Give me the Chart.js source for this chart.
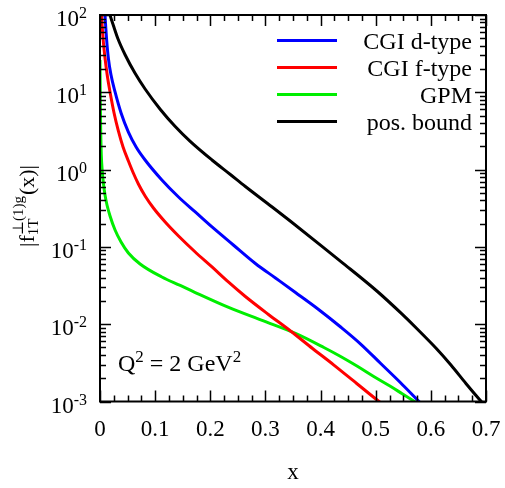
<!DOCTYPE html>
<html>
<head>
<meta charset="utf-8">
<script src="https://cdn.jsdelivr.net/npm/chart.js@4"></script>
<style>
  body { margin: 0; background: #fff; }
  #wrap { width: 505px; height: 488px; }
</style>
</head>
<body>
<div id="wrap"><canvas id="chart" width="505" height="488"></canvas></div>
<script>
// values (x, |f| on log scale)
const xTicks = [0, 0.1, 0.2, 0.3, 0.4, 0.5, 0.6, 0.7];
const yDecades = [-3, -2, -1, 0, 1, 2];

const labels = ['CGI d-type', 'CGI f-type', 'GPM', 'pos. bound'];
const colors = ['#0000ff', '#ff0000', '#00ee00', '#000000'];

const xBlue = [0.007, 0.0091, 0.0118, 0.0151, 0.02, 0.0273, 0.0382, 0.0515, 0.0655, 0.0818, 0.1122, 0.1424, 0.1727, 0.2031, 0.2418, 0.2818, 0.3182, 0.3545, 0.3964, 0.4364, 0.4727, 0.5091, 0.5455, 0.5758, 0.5855];
const yBlue = [200, 100, 50.4, 27.8, 16.7, 10.1, 5.4, 3.06, 1.96, 1.331, 0.734, 0.442, 0.283, 0.181, 0.1058, 0.061, 0.0396, 0.0257, 0.0155, 0.0092, 0.00554, 0.0031, 0.001735, 0.001045, 0.00089];

const xRed = [0.0022, 0.0031, 0.0055, 0.0091, 0.0136, 0.0182, 0.0255, 0.0333, 0.0418, 0.0515, 0.06, 0.0696, 0.0818, 0.0969, 0.1182, 0.1424, 0.1727, 0.2031, 0.2327, 0.2636, 0.3055, 0.3455, 0.3855, 0.4242, 0.4655, 0.506, 0.5145];
const yRed = [210, 100, 50.4, 27.8, 15.8, 10.1, 5.4, 3.16, 1.96, 1.292, 0.917, 0.651, 0.4555, 0.3186, 0.21, 0.1384, 0.0859, 0.055, 0.0352, 0.02283, 0.01337, 0.00818, 0.00485, 0.00296, 0.00171, 0.001, 0.0009];

const xGreen = [0, 0.00055, 0.00127, 0.00236, 0.00418, 0.00636, 0.00909, 0.0127, 0.0182, 0.0273, 0.0382, 0.0515, 0.0727, 0.1122, 0.1455, 0.1727, 0.2333, 0.294, 0.3545, 0.406, 0.4364, 0.4667, 0.4964, 0.5273, 0.5473, 0.5667, 0.5745];
const yGreen = [26.2, 7.95, 3.25, 1.545, 0.931, 0.651, 0.469, 0.348, 0.251, 0.1654, 0.1157, 0.0834, 0.0601, 0.0408, 0.0317, 0.0257, 0.01647, 0.01118, 0.0076, 0.004995, 0.00382, 0.002853, 0.002105, 0.001559, 0.00127, 0.00104, 0.00096];

const xBlack = [0.0091, 0.0182, 0.0255, 0.0327, 0.0455, 0.0636, 0.0818, 0.1091, 0.1364, 0.1636, 0.2031, 0.2364, 0.2636, 0.3122, 0.3455, 0.406, 0.4364, 0.5031, 0.5455, 0.5758, 0.6091, 0.6364, 0.6636, 0.6878, 0.7];
const yBlack = [176, 100, 68.9, 48.9, 30.6, 17.6, 11.03, 6.04, 3.61, 2.32, 1.331, 0.864, 0.6045, 0.328, 0.2144, 0.0973, 0.0651, 0.02649, 0.01398, 0.0086, 0.00492, 0.002967, 0.001711, 0.001068, 0.000849];

const seriesX = [xBlue, xRed, xGreen, xBlack];
const seriesY = [yBlue, yRed, yGreen, yBlack];

const FONT = '"Liberation Serif", "DejaVu Serif", serif';

const pts = (xs, ys) => xs.map((x, i) => ({ x: x, y: ys[i] }));

// draws text with pieces: [text, size, dy]
function drawPieces(ctx, pieces, x, y) {
  let cx = x;
  for (const p of pieces) {
    ctx.font = p[1] + 'px ' + FONT;
    ctx.fillText(p[0], cx, y + p[2]);
    cx += ctx.measureText(p[0]).width;
  }
  return cx;
}
function piecesWidth(ctx, pieces) {
  let w = 0;
  for (const p of pieces) {
    ctx.font = p[1] + 'px ' + FONT;
    w += ctx.measureText(p[0]).width;
  }
  return w;
}

const decor = {
  id: 'decor',
  afterDraw(chart) {
    const ctx = chart.ctx;
    const a = chart.chartArea;
    const xs = chart.scales.x, ys = chart.scales.y;
    ctx.save();
    ctx.strokeStyle = '#000';
    ctx.fillStyle = '#000';

    // frame
    ctx.lineWidth = 2;
    ctx.strokeRect(a.left, a.top, a.right - a.left, a.bottom - a.top);

    // inward ticks on x (bottom + top)
    ctx.lineWidth = 1.5;
    ctx.beginPath();
    for (let i = 0; i <= 28; i++) {
      const px = Math.round(xs.getPixelForValue(i * 0.025)) + 0.5;
      const len = i % 4 === 0 ? 11 : 6;
      ctx.moveTo(px, a.bottom); ctx.lineTo(px, a.bottom - len);
      ctx.moveTo(px, a.top); ctx.lineTo(px, a.top + len);
    }
    // inward ticks on y (left + right)
    for (const d of yDecades) {
      for (let m = 1; m <= 9; m++) {
        if (d === 2 && m > 1) break;
        const py = Math.round(ys.getPixelForValue(m * Math.pow(10, d))) + 0.5;
        const len = m === 1 ? 11 : 6;
        ctx.moveTo(a.left, py); ctx.lineTo(a.left + len, py);
        ctx.moveTo(a.right, py); ctx.lineTo(a.right - len, py);
      }
    }
    ctx.stroke();

    // y tick labels 10^n
    ctx.textBaseline = 'alphabetic';
    ctx.textAlign = 'left';
    for (const d of yDecades) {
      const py = ys.getPixelForValue(Math.pow(10, d));
      const pieces = [['10', 23, 11], [d < 0 ? '-' + (-d) : String(d), 16, 3]];
      const w = piecesWidth(ctx, pieces);
      drawPieces(ctx, pieces, 87 - w, py);
    }

    // x axis title
    ctx.font = '23px ' + FONT;
    ctx.textAlign = 'center';
    ctx.fillText('x', (a.left + a.right) / 2, 479);
    ctx.textAlign = 'left';

    // y axis title, rotated
    ctx.save();
    ctx.translate(34, 206);
    ctx.rotate(-Math.PI / 2);
    ctx.font = '22px ' + FONT;
    const w1 = ctx.measureText('|f').width;
    ctx.font = '15px ' + FONT;
    const wsup = ctx.measureText('\u22A5(1)g').width;
    const wsub = ctx.measureText('1T').width;
    ctx.font = '22px ' + FONT;
    const w2 = ctx.measureText('(x)|').width;
    const total = w1 + Math.max(wsup, wsub) + 1 + w2;
    let cx = -total / 2;
    ctx.fillText('|f', cx, 0);
    cx += w1;
    ctx.font = '15px ' + FONT;
    ctx.fillText('\u22A5(1)g', cx, -11);
    ctx.fillText('1T', cx, 4);
    cx += Math.max(wsup, wsub) + 1;
    ctx.font = '22px ' + FONT;
    ctx.fillText('(x)|', cx, 0);
    ctx.restore();

    // Q^2 annotation
    drawPieces(ctx, [['Q', 24, 0], ['2', 17, -9], [' = 2 GeV', 24, 0], ['2', 17, -9]], 118, 371);

    // legend: line then right-aligned label
    chart.data.datasets.forEach((ds, i) => {
      const ly = 40.5 + i * 27;
      ctx.strokeStyle = ds.borderColor;
      ctx.lineWidth = 3;
      ctx.beginPath();
      ctx.moveTo(277, ly); ctx.lineTo(337, ly);
      ctx.stroke();
      ctx.font = '24px ' + FONT;
      ctx.textAlign = 'right';
      ctx.fillText(ds.label, 472, ly + 8);
    });
    ctx.restore();
  }
};

new Chart(document.getElementById('chart'), {
  type: 'scatter',
  data: {
    datasets: labels.map((l, i) => ({
      label: l,
      data: pts(seriesX[i], seriesY[i]),
      showLine: true,
      borderColor: colors[i],
      backgroundColor: colors[i],
      borderWidth: 3,
      pointRadius: 0,
      cubicInterpolationMode: 'monotone'
    }))
  },
  options: {
    responsive: false,
    animation: false,
    devicePixelRatio: 1,
    layout: { padding: { top: 15, right: 19, left: 0, bottom: 0 } },
    plugins: { legend: { display: false }, tooltip: { enabled: false } },
    scales: {
      x: {
        type: 'linear',
        min: 0,
        max: 0.7,
        afterBuildTicks: s => { s.ticks = xTicks.map(v => ({ value: v })); },
        afterFit: s => { s.height = 86.5; s.paddingLeft = 0; s.paddingRight = 0; },
        grid: { display: false, drawTicks: false },
        border: { display: false },
        ticks: {
          color: '#000',
          font: { family: FONT, size: 23 },
          padding: 15,
          maxRotation: 0,
          autoSkip: false,
          callback: v => (v === 0 ? '0' : v.toFixed(1))
        }
      },
      y: {
        type: 'logarithmic',
        min: 1e-3,
        max: 100,
        afterFit: s => { s.width = 100; },
        grid: { display: false, drawTicks: false },
        border: { display: false },
        ticks: { display: false }
      }
    }
  },
  plugins: [decor]
});
</script>
</body>
</html>
